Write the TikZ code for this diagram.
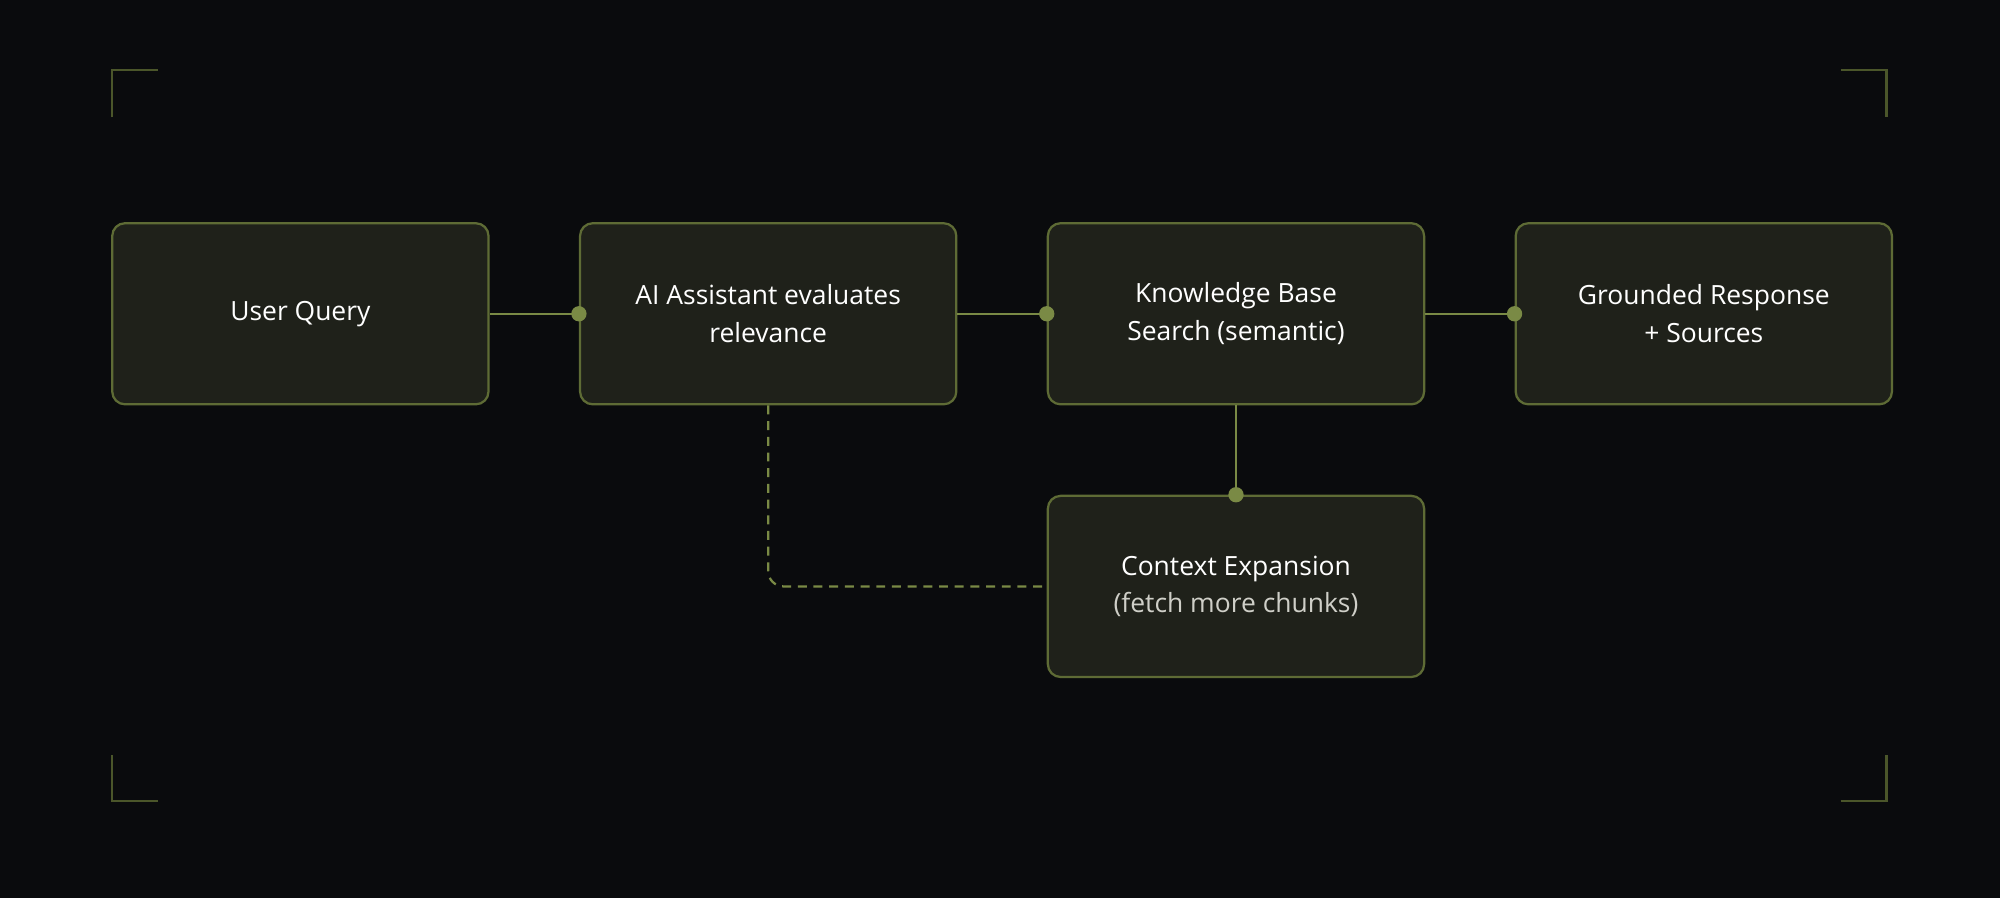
\documentclass[tikz,border=0pt]{standalone}
\usepackage{fontspec}
\setmainfont{Open Sans}
\usetikzlibrary{positioning}
\definecolor{bg}{HTML}{0A0B0D}
\definecolor{boxfill}{HTML}{1F211A}
\definecolor{olive}{HTML}{7A8A45}
\definecolor{edge}{HTML}{5E6B35}
\definecolor{subtext}{HTML}{CFCFC8}
\tikzset{
  stage/.style={draw=edge, line width=0.5pt, fill=boxfill, rounded corners=0.1cm,
    minimum width=2.95cm, minimum height=1.42cm, align=center, text=white,
    font=\fontsize{5.9}{8.4}\selectfont},
  link/.style={draw=olive, line width=0.5pt},
  dot/.style={circle, fill=olive, inner sep=0pt, minimum size=0.12cm},
  bracket/.style={draw=edge!80!black, line width=0.5pt}
}
\begin{document}
\begin{tikzpicture}
    \fill[bg] (0,0) rectangle (15.68,7.04);
    \useasboundingbox (0,0) rectangle (15.68,7.04);
    % corner marks
    \draw[bracket] (0.88,6.12) -- (0.88,6.49) -- (1.24,6.49);
    \draw[bracket] (14.43,6.49) -- (14.79,6.49) -- (14.79,6.12);
    \draw[bracket] (0.88,1.12) -- (0.88,0.76) -- (1.24,0.76);
    \draw[bracket] (14.43,0.76) -- (14.79,0.76) -- (14.79,1.12);
    % stages
    \node[stage] (query) at (2.355,4.58) {User Query};
    \node[stage, right=0.7cm of query] (assist) {AI Assistant evaluates\\relevance};
    \node[stage, right=0.7cm of assist] (search) {Knowledge Base\\Search (semantic)};
    \node[stage, right=0.7cm of search] (answer) {Grounded Response\\+ Sources};
    \node[stage, below=0.7cm of search] (expand) {Context Expansion\\{\color{subtext}(fetch more chunks)}};
    % links
    \draw[link] (query) -- (assist.west) node[dot] {};
    \draw[link] (assist) -- (search.west) node[dot] {};
    \draw[link] (search) -- (answer.west) node[dot] {};
    \draw[link] (search) -- (expand.north) node[dot] {};
    \draw[link, dash pattern=on 2pt off 1.5pt, rounded corners=0.12cm]
        (assist.south) |- (expand.west);
\end{tikzpicture}
\end{document}
